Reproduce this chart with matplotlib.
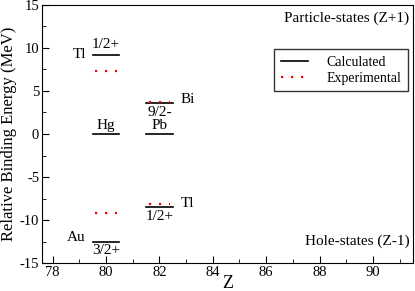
import matplotlib
matplotlib.use("Agg")
from matplotlib import pyplot as plt
from matplotlib.ticker import MultipleLocator

plt.rcParams['font.family'] = ['Liberation Serif', 'DejaVu Serif']
plt.rcParams['axes.unicode_minus'] = False

# niveles calculados y experimentales (Z, energia en MeV)
z_calc = [80, 80, 82, 82, 80]
e_calc = [9.2, 0.0, 0.0, 3.6, -12.5]
z_calc_hueco = [82]
e_calc_hueco = [-8.5]
z_exp = [80, 82, 82, 80]
e_exp = [7.3, 3.7, -8.1, -9.2]

fig, ax = plt.subplots(figsize=(4.15, 2.91), dpi=100)

ancho = 0.5
for z, e in zip(z_calc + z_calc_hueco, e_calc + e_calc_hueco):
    ax.plot([z - ancho, z + ancho], [e, e], color='black', lw=1.2)
for z, e in zip(z_exp, e_exp):
    ax.plot([z - 0.4, z + 0.4], [e, e], color='red', lw=1.6,
            linestyle=(0, (1, 3.5)))

fs = 11
# leyenda
ax.plot([], [], color='black', lw=1.2, label='Calculated')
ax.plot([], [], color='red', lw=1.6, linestyle=(0, (1, 3.5)), label='Experimental')
leg = ax.legend(loc='upper right', bbox_to_anchor=(0.987, 0.83), fontsize=10,
                frameon=True, fancybox=False, edgecolor='black',
                handlelength=1.9, handletextpad=1.35, borderpad=0.5,
                labelspacing=0.2, borderaxespad=0)
leg.get_frame().set_linewidth(1.0)

ax.text(80, 0.25, 'Hg', ha='center', va='bottom', fontsize=fs)
ax.text(80, 9.6, '1/2+', ha='center', va='bottom', fontsize=fs)
ax.text(79.25, 9.2, 'Tl', ha='right', va='center', fontsize=fs)
ax.text(82, 0.25, 'Pb', ha='center', va='bottom', fontsize=fs)
ax.text(82, 3.3, '9/2-', ha='center', va='top', fontsize=fs)
ax.text(82.8, 4.0, 'Bi', ha='left', va='center', fontsize=fs)
ax.text(82, -8.8, '1/2+', ha='center', va='top', fontsize=fs)
ax.text(82.8, -8.1, 'Tl', ha='left', va='center', fontsize=fs)
ax.text(79.25, -12.0, 'Au', ha='right', va='center', fontsize=fs)
ax.text(80, -12.8, '3/2+', ha='center', va='top', fontsize=fs)
ax.text(0.99, 0.975, 'Particle-states (Z+1)', transform=ax.transAxes,
        ha='right', va='top', fontsize=fs)
ax.text(0.99, 0.06, 'Hole-states (Z-1)', transform=ax.transAxes,
        ha='right', va='bottom', fontsize=fs)

ax.set_xlim(77.6, 91.5)
ax.set_ylim(-15, 15)
ax.xaxis.set_major_locator(MultipleLocator(2))
ax.xaxis.set_minor_locator(MultipleLocator(1))
ax.yaxis.set_major_locator(MultipleLocator(5))
ax.yaxis.set_minor_locator(MultipleLocator(2.5))
ax.tick_params(which='both', direction='in', top=False, right=False,
               labelsize=10.5, pad=2)
ax.tick_params(which='major', length=5)
ax.tick_params(which='minor', length=3)
ax.set_xlabel('Z', fontsize=13, labelpad=-3)
ax.set_ylabel('Relative Binding Energy (MeV)', fontsize=12, labelpad=2)

plt.subplots_adjust(left=0.101, right=0.995, top=0.983, bottom=0.096)
plt.savefig('out.png')
